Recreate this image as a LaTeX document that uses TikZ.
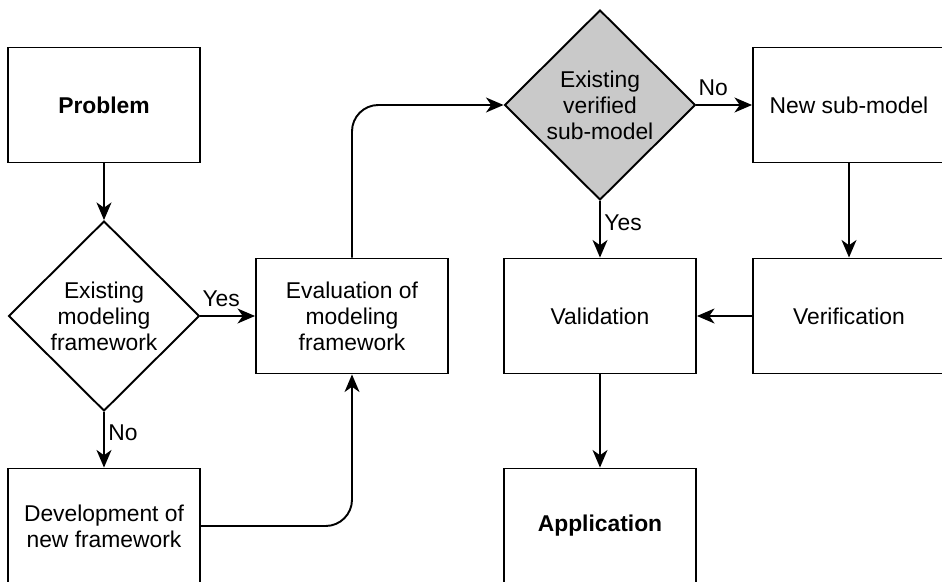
\documentclass[tikz,border=0pt]{standalone}
\usepackage{fontspec}
\setmainfont{Liberation Sans}
\usetikzlibrary{shapes.geometric,arrows.meta}

\begin{document}
\begin{tikzpicture}[x=0.02cm,y=-0.02cm,line width=1.1pt,
  every node/.style={font=\fontsize{13}{14.8}\selectfont,align=center},
  box/.style={draw,rectangle,minimum width=3.84cm,minimum height=2.3cm,inner sep=0pt},
  choice/.style={draw,diamond,aspect=1,minimum width=3.82cm,minimum height=3.8cm,inner sep=0pt},
  arr/.style={-{Stealth[length=10pt,width=8.5pt,inset=3pt]}},
  lbl/.style={font=\fontsize{13}{14}\selectfont,inner sep=2pt}]
\clip (0,0) rectangle (942,581);

\node[box] (problem) at (104,105) {\textbf{Problem}};
\node[choice] (existing) at (104,316) {Existing\\modeling\\framework};
\node[box] (evaluation) at (352,316) {Evaluation of\\modeling\\framework};
\node[box] (development) at (104,526) {Development of\\new framework};
\node[choice,fill=black!21] (verified) at (600,105) {Existing\\verified\\sub-model};
\node[box] (newsub) at (849,105) {New sub-model};
\node[box] (validation) at (600,316) {Validation};
\node[box] (verification) at (849,316) {Verification};
\node[box] (application) at (600,526) {\textbf{Application}};

\draw[arr] (problem) -- (existing);
\draw[arr] (existing) -- node[lbl,above,pos=0.38,yshift=3pt] {Yes} (evaluation);
\draw[arr] (existing) -- node[lbl,right,pos=0.38] {No} (development);
\draw[arr,rounded corners=15] (development.east) -| (evaluation.south);
\draw[arr,rounded corners=15] (evaluation.north) |- (verified.west);
\draw[arr] (verified) -- node[lbl,above,pos=0.3,yshift=3pt] {No} (newsub);
\draw[arr] (verified) -- node[lbl,right,pos=0.38] {Yes} (validation);
\draw[arr] (newsub) -- (verification);
\draw[arr] (verification) -- (validation);
\draw[arr] (validation) -- (application);
\end{tikzpicture}
\end{document}
